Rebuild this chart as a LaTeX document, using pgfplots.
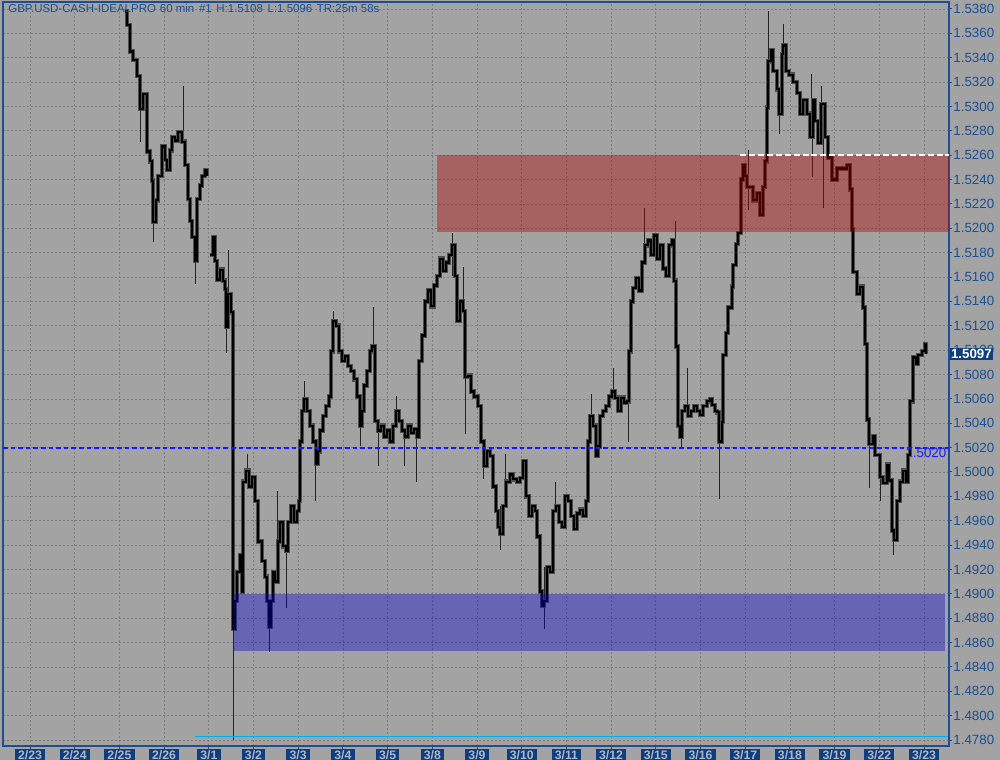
\documentclass[border=0pt]{standalone}
\usepackage{fontspec}
\setmainfont{Liberation Sans}
\usepackage{pgfplots}
\usepackage{pgfplotstable}
\pgfplotsset{compat=1.18}

\definecolor{bg}{RGB}{163,163,163}
\definecolor{gridc}{RGB}{125,125,125}
\definecolor{axblue}{RGB}{28,78,145}
\definecolor{boxblue}{RGB}{14,62,126}
\definecolor{boxtext}{RGB}{172,182,198}
\definecolor{zonered}{RGB}{175,0,0}
\definecolor{zoneblue}{RGB}{0,0,208}
\definecolor{supblue}{RGB}{25,25,255}
\definecolor{wickc}{RGB}{35,35,35}
\definecolor{bodyc}{RGB}{78,78,78}

% hourly closes, GBP/USD (day index: 0 = 2/23)
\pgfplotstableread{
d p
2.125 1.5378
2.170 1.5367
2.237 1.5345
2.304 1.5338
2.394 1.5325
2.461 1.5298
2.528 1.5310
2.617 1.5263
2.685 1.5255
2.729 1.5239
2.752 1.5205
2.819 1.5223
2.864 1.5243
2.953 1.5267
3.020 1.5256
3.065 1.5248
3.132 1.5264
3.177 1.5275
3.244 1.5272
3.311 1.5279
3.400 1.5271
3.468 1.5252
3.535 1.5224
3.579 1.5206
3.624 1.5193
3.691 1.5173
3.736 1.5224
3.803 1.5235
3.848 1.5243
3.915 1.5248
3.960 1.5243
3.990 nan
4.027 1.5178
4.094 1.5193
4.139 1.5173
4.183 1.5158
4.251 1.5166
4.318 1.5157
4.362 1.5150
4.385 1.5119
4.430 1.5146
4.497 1.5131
4.541 1.4871
4.586 1.4894
4.631 1.4918
4.698 1.4932
4.743 1.4902
4.765 1.4992
4.832 1.5001
4.899 1.4988
4.966 1.4996
5.034 1.4976
5.101 1.4943
5.190 1.4927
5.257 1.4914
5.302 1.4894
5.347 1.4873
5.391 1.4894
5.436 1.4918
5.481 1.4910
5.548 1.4943
5.593 1.4959
5.660 1.4939
5.727 1.4935
5.772 1.4959
5.839 1.4972
5.906 1.4959
5.973 1.4968
6.018 1.4976
6.040 1.5025
6.085 1.5050
6.130 1.5060
6.197 1.5050
6.264 1.5038
6.331 1.5025
6.398 1.5007
6.443 1.5017
6.488 1.5034
6.555 1.5046
6.622 1.5054
6.689 1.5062
6.734 1.5099
6.779 1.5124
6.846 1.5120
6.913 1.5099
6.980 1.5091
7.047 1.5095
7.114 1.5087
7.181 1.5083
7.248 1.5076
7.315 1.5062
7.383 1.5038
7.427 1.5050
7.472 1.5071
7.539 1.5083
7.606 1.5099
7.651 1.5103
7.718 1.5042
7.785 1.5034
7.852 1.5038
7.919 1.5029
7.987 1.5034
8.054 1.5025
8.121 1.5038
8.188 1.5050
8.255 1.5042
8.322 1.5034
8.389 1.5029
8.456 1.5038
8.523 1.5032
8.591 1.5035
8.658 1.5029
8.702 1.5091
8.770 1.5112
8.837 1.5140
8.904 1.5149
8.971 1.5136
9.038 1.5153
9.105 1.5161
9.172 1.5175
9.239 1.5165
9.306 1.5172
9.374 1.5178
9.441 1.5186
9.508 1.5161
9.553 1.5124
9.620 1.5140
9.687 1.5132
9.732 1.5078
9.799 1.5079
9.866 1.5066
9.933 1.5062
10.022 1.5054
10.089 1.5025
10.157 1.5005
10.224 1.5017
10.291 1.5013
10.358 1.4988
10.425 1.4968
10.470 1.4955
10.515 1.4949
10.582 1.4972
10.649 1.4992
10.738 1.4998
10.805 1.4994
10.895 1.4992
10.962 1.4995
11.029 1.5009
11.096 1.4980
11.163 1.4964
11.230 1.4972
11.298 1.4968
11.342 1.4947
11.409 1.4902
11.454 1.4890
11.499 1.4894
11.566 1.4922
11.633 1.4918
11.700 1.4968
11.767 1.4972
11.834 1.4959
11.902 1.4955
11.969 1.4980
12.036 1.4976
12.103 1.4964
12.170 1.4953
12.237 1.4966
12.304 1.4969
12.371 1.4964
12.438 1.4976
12.483 1.5025
12.528 1.5046
12.595 1.5038
12.662 1.5013
12.707 1.5021
12.752 1.5046
12.819 1.5050
12.886 1.5054
12.953 1.5062
13.020 1.5066
13.087 1.5061
13.154 1.5050
13.221 1.5061
13.289 1.5057
13.356 1.5058
13.400 1.5099
13.445 1.5140
13.490 1.5151
13.557 1.5159
13.624 1.5149
13.691 1.5172
13.758 1.5186
13.826 1.5190
13.893 1.5178
13.960 1.5194
14.027 1.5175
14.094 1.5186
14.161 1.5167
14.228 1.5161
14.295 1.5186
14.362 1.5190
14.407 1.5157
14.452 1.5103
14.497 1.5038
14.541 1.5029
14.586 1.5050
14.653 1.5054
14.720 1.5046
14.787 1.5050
14.855 1.5054
14.922 1.5050
14.989 1.5047
15.056 1.5054
15.145 1.5058
15.213 1.5060
15.257 1.5055
15.324 1.5050
15.369 1.5049
15.414 1.5025
15.459 1.5025
15.481 1.5041
15.503 1.5096
15.570 1.5114
15.615 1.5135
15.705 1.5152
15.727 1.5170
15.794 1.5187
15.839 1.5196
15.906 1.5240
15.951 1.5252
15.996 1.5243
16.040 1.5234
16.107 1.5234
16.174 1.5223
16.264 1.5229
16.331 1.5211
16.398 1.5234
16.443 1.5255
16.488 1.5299
16.510 1.5337
16.577 1.5346
16.622 1.5329
16.711 1.5314
16.756 1.5294
16.823 1.5343
16.846 1.5350
16.913 1.5329
16.980 1.5326
17.069 1.5320
17.159 1.5311
17.226 1.5294
17.293 1.5305
17.383 1.5294
17.450 1.5275
17.517 1.5305
17.562 1.5288
17.629 1.5270
17.696 1.5302
17.785 1.5275
17.852 1.5258
17.942 1.5240
18.054 1.5249
18.166 1.5249
18.277 1.5252
18.345 1.5232
18.389 1.5199
18.412 1.5164
18.501 1.5146
18.568 1.5152
18.635 1.5135
18.680 1.5105
18.725 1.5043
18.770 1.5023
18.859 1.5029
18.904 1.5014
19.016 1.4996
19.083 1.4991
19.172 1.5006
19.217 1.4993
19.284 1.4952
19.329 1.4944
19.396 1.4976
19.463 1.4992
19.530 1.5001
19.597 1.4992
19.642 1.5014
19.687 1.5058
19.754 1.5094
19.821 1.5089
19.866 1.5096
19.955 1.5099
20.022 1.5105
20.045 1.5097
}\closes

\begin{document}
\begin{tikzpicture}[x=1pt,y=1pt]
\fill[bg] (0,0) rectangle (750,570);
\begin{axis}[
    at={(2.25pt,10.5pt)}, anchor=south west,
    scale only axis, width=709.5pt, height=558pt,
    xmin=-0.604, xmax=20.559,
    ymin=1.47751, ymax=1.53857,
    axis background/.style={fill=bg},
    axis line style={axblue, line width=0.8pt},
    xtick={0,...,20},
    xticklabels={2/23,2/24,2/25,2/26,3/1,3/2,3/3,3/4,3/5,3/8,3/9,3/10,3/11,3/12,3/15,3/16,3/17,3/18,3/19,3/22,3/23},
    ytick={1.478,1.480,...,1.5385},
    xtick pos=bottom, ytick pos=right, yticklabel pos=right,
    tick align=outside, major tick length=2.5pt,
    tick style={axblue, line width=0.7pt},
    grid=major,
    grid style={gridc, line width=0.5pt, dash pattern=on 1.5pt off 1.5pt},
    xticklabel style={fill=boxblue, text=boxtext, inner xsep=2.4pt, inner ysep=0.6pt,
        font=\fontsize{9.2}{9}\selectfont\bfseries, yshift=0.2pt},
    yticklabel style={text=axblue, anchor=west, inner sep=0.6pt,
        font=\fontsize{10}{10}\selectfont},
    /pgf/number format/.cd, fixed, fixed zerofill, precision=4, assume math mode=true,
    /pgfplots/.cd,
    clip mode=individual,
]

% label of the 1.5020 support line (under the candles)
\node[anchor=north east, text=supblue, inner sep=0.5pt, font=\fontsize{10}{10}\selectfont]
    at (axis cs:20.52,1.5020) {1.5020};

% high/low wicks
\addplot[wickc, line width=0.55pt, unbounded coords=jump] coordinates {
(2.461,1.5271)(2.461,1.5313)(2.461,nan)
(2.752,1.5189)(2.752,1.5223)(2.752,nan)
(3.423,1.5264)(3.423,1.5317)(3.423,nan)
(3.691,1.5154)(3.691,1.5180)(3.691,nan)
(4.385,1.5098)(4.385,1.5146)(4.385,nan)
(4.430,1.5131)(4.430,1.5182)(4.430,nan)
(4.541,1.4780)(4.541,1.4871)(4.541,nan)
(4.855,1.4988)(4.855,1.5015)(4.855,nan)
(5.347,1.4852)(5.347,1.4894)(5.347,nan)
(5.526,1.4943)(5.526,1.4984)(5.526,nan)
(5.727,1.4888)(5.727,1.4935)(5.727,nan)
(6.130,1.5050)(6.130,1.5075)(6.130,nan)
(6.376,1.4976)(6.376,1.5007)(6.376,nan)
(6.779,1.5120)(6.779,1.5132)(6.779,nan)
(7.383,1.5021)(7.383,1.5050)(7.383,nan)
(7.673,1.5103)(7.673,1.5135)(7.673,nan)
(7.785,1.5005)(7.785,1.5034)(7.785,nan)
(8.188,1.5042)(8.188,1.5062)(8.188,nan)
(8.367,1.5005)(8.367,1.5034)(8.367,nan)
(8.635,1.4992)(8.635,1.5029)(8.635,nan)
(9.441,1.5161)(9.441,1.5196)(9.441,nan)
(9.687,1.5132)(9.687,1.5168)(9.687,nan)
(9.732,1.5031)(9.732,1.5078)(9.732,nan)
(10.134,1.4994)(10.134,1.5017)(10.134,nan)
(10.515,1.4936)(10.515,1.4972)(10.515,nan)
(10.626,1.4972)(10.626,1.5015)(10.626,nan)
(11.499,1.4871)(11.499,1.4922)(11.499,nan)
(11.745,1.4968)(11.745,1.4992)(11.745,nan)
(12.550,1.5038)(12.550,1.5064)(12.550,nan)
(13.043,1.5061)(13.043,1.5085)(13.043,nan)
(13.378,1.5025)(13.378,1.5058)(13.378,nan)
(13.736,1.5172)(13.736,1.5217)(13.736,nan)
(14.430,1.5157)(14.430,1.5206)(14.430,nan)
(14.564,1.5019)(14.564,1.5050)(14.564,nan)
(14.698,1.5046)(14.698,1.5085)(14.698,nan)
(15.414,1.4978)(15.414,1.5025)(15.414,nan)
(16.063,1.5215)(16.063,1.5264)(16.063,nan)
(16.510,1.5299)(16.510,1.5378)(16.510,nan)
(16.756,1.5277)(16.756,1.5314)(16.756,nan)
(16.846,1.5329)(16.846,1.5368)(16.846,nan)
(17.472,1.5275)(17.472,1.5327)(17.472,nan)
(17.494,1.5242)(17.494,1.5305)(17.494,nan)
(17.696,1.5270)(17.696,1.5317)(17.696,nan)
(17.740,1.5217)(17.740,1.5275)(17.740,nan)
(18.770,1.4987)(18.770,1.5029)(18.770,nan)
(19.016,1.4976)(19.016,1.4996)(19.016,nan)
(19.306,1.4932)(19.306,1.4976)(19.306,nan)
};

% candle bodies: wide grey band under a black core, both as steps
\addplot[bodyc, line width=3.4pt, const plot, unbounded coords=jump] table[x=d, y=p] {\closes};
\addplot[black, line width=1.7pt, const plot, unbounded coords=jump] table[x=d, y=p] {\closes};

% resistance zone (translucent red) and support zone (translucent blue)
\addplot[draw=none, fill=zonered, fill opacity=0.4] coordinates {(9.105,1.5197) (20.559,1.5197) (20.559,1.5260) (9.105,1.5260)} -- cycle;
\addplot[draw=none, fill=zoneblue, fill opacity=0.375] coordinates {(4.541,1.4853) (20.47,1.4853) (20.47,1.4900) (4.541,1.4900)} -- cycle;

% support line 1.5020, 1.5260 white dashed and cyan low line
\addplot[supblue, opacity=1, line width=1.4pt, dash pattern=on 3.5pt off 2.2pt] coordinates {(-0.604,1.5020) (20.559,1.5020)};
\addplot[white, line width=1.1pt, dash pattern=on 4.5pt off 2.2pt] coordinates {(15.884,1.5260) (20.559,1.5260)};
\addplot[cyan, line width=1.1pt] coordinates {(3.691,1.4783) (20.54,1.4783)};

% title and last price box
\node[anchor=north west, text=axblue, inner sep=0pt, font=\fontsize{8.6}{10}\selectfont]
    at ([xshift=3.8pt,yshift=-1.2pt]rel axis cs:0,1)
    {GBP.USD-CASH-IDEALPRO\hspace{3pt}60 min\hspace{3.5pt}\#1\hspace{3.5pt}H:1.5108\hspace{3.5pt}L:1.5096\hspace{3.5pt}TR:25m 58s};
\node[anchor=west, fill=boxblue, text=white, inner xsep=1pt, inner ysep=1pt, font=\fontsize{10}{10}\selectfont\bfseries]
    at ([xshift=0.3pt]axis cs:20.559,1.5097) {1.5097};
\end{axis}
\pgfresetboundingbox
\path (0,0) rectangle (750,570);
\end{tikzpicture}
\end{document}
